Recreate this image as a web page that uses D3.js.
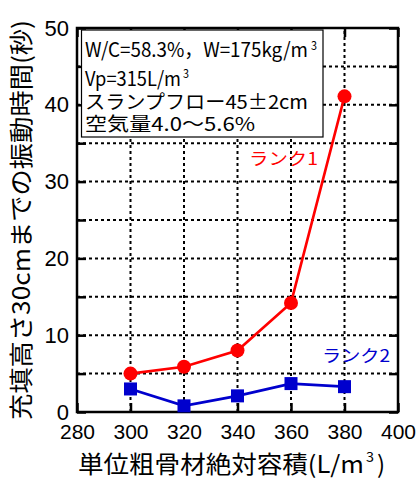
<!DOCTYPE html>
<html>
<head>
<meta charset="utf-8">
<script src="https://cdn.jsdelivr.net/npm/d3@7"></script>
<style>
  body { margin: 0; background: #fff; }
</style>
</head>
<body>
<div id="chart"></div>
<script>
const w = 420;
const h = 480;

// tick values
const xTicks = [280, 300, 320, 340, 360, 380, 400];
const yTicks = [0, 10, 20, 30, 40, 50];

// data
const volume = [300, 320, 340, 360, 380];
const rank1 = [5.0, 5.9, 8.0, 14.2, 41.1];
const rank2 = [3.0, 0.8, 2.1, 3.7, 3.3];

const jp = '"Noto Sans CJK JP", sans-serif';
const latin = '"Liberation Sans", Arial, sans-serif';
const red = '#ff0000';
const blue = '#0000cd';

const x = d3.scaleLinear().domain([280, 400]).range([77, 398]);
const y = d3.scaleLinear().domain([0, 50]).range([412, 28]);

const svg = d3.select('#chart')
  .append('svg')
  .attr('width', w)
  .attr('height', h);

// dashed grid
const grid = svg.append('g')
  .attr('stroke', '#000')
  .attr('stroke-width', 2)
  .attr('stroke-dasharray', '3,3');

grid.selectAll('.vg')
  .data(xTicks.slice(1, -1))
  .enter()
  .append('line')
  .attr('x1', (d) => x(d))
  .attr('x2', (d) => x(d))
  .attr('y1', y(0))
  .attr('y2', y(50));

grid.selectAll('.hg')
  .data(d3.range(5, 50, 5))
  .enter()
  .append('line')
  .attr('x1', x(280))
  .attr('x2', x(400))
  .attr('y1', (d) => y(d))
  .attr('y2', (d) => y(d));

// axes with inward ticks on all sides
const yMarks = d3.range(0, 51, 5);

const axisL = svg.append('g')
  .attr('transform', `translate(${x(280)},0)`)
  .call(d3.axisLeft(y).tickValues(yMarks).tickSizeInner(-9).tickSizeOuter(0).tickPadding(8)
    .tickFormat((d) => (yTicks.includes(d) ? d : '')));

const axisR = svg.append('g')
  .attr('transform', `translate(${x(400)},0)`)
  .call(d3.axisRight(y).tickValues(yMarks).tickSizeInner(-9).tickSizeOuter(0).tickFormat(''));

const axisB = svg.append('g')
  .attr('transform', `translate(0,${y(0)})`)
  .call(d3.axisBottom(x).tickValues(xTicks).tickSizeInner(-9).tickSizeOuter(0).tickPadding(12));

const axisT = svg.append('g')
  .attr('transform', `translate(0,${y(50)})`)
  .call(d3.axisTop(x).tickValues(xTicks).tickSizeInner(-9).tickSizeOuter(0).tickFormat(''));

[axisL, axisR, axisB, axisT].forEach((g) => {
  g.select('.domain').remove();
  g.selectAll('.tick line').attr('stroke', '#000').attr('stroke-width', 2.5);
  g.selectAll('.tick text')
    .attr('fill', '#000')
    .style('font-family', latin)
    .style('font-size', '21px');
});
axisL.selectAll('.tick text').style('font-size', '22px');

svg.append('rect')
  .attr('x', x(280))
  .attr('y', y(50))
  .attr('width', x(400) - x(280))
  .attr('height', y(0) - y(50))
  .attr('fill', 'none')
  .attr('stroke', '#000')
  .attr('stroke-width', 2.5);

// condition box
svg.append('rect')
  .attr('x', 81.5)
  .attr('y', 30)
  .attr('width', 241.5)
  .attr('height', 107)
  .attr('fill', '#fff')
  .attr('stroke', '#000')
  .attr('stroke-width', 1.2);

function boxText(str, tx, ty, len, size) {
  svg.append('text')
    .attr('x', tx)
    .attr('y', ty)
    .attr('textLength', len)
    .attr('lengthAdjust', 'spacingAndGlyphs')
    .style('font-family', jp)
    .style('font-size', size + 'px')
    .attr('fill', '#000')
    .text(str);
}

boxText('W/C=58.3%，W=175kg/m', 85, 57, 223, 20);
boxText('3', 311, 50, 6, 12);
boxText('Vp=315L/m', 85, 86, 96, 20);
boxText('3', 183, 78, 6, 12);
boxText('スランプフロー45±2cm', 85, 109, 223, 19);
boxText('空気量4.0～5.6%', 85, 131, 170, 19);

// series
const pts1 = volume.map((v, i) => [v, rank1[i]]);
const pts2 = volume.map((v, i) => [v, rank2[i]]);
const line = d3.line().x((d) => x(d[0])).y((d) => y(d[1]));

svg.append('path')
  .datum(pts2)
  .attr('d', line)
  .attr('fill', 'none')
  .attr('stroke', blue)
  .attr('stroke-width', 2.8);

svg.selectAll('.sq')
  .data(pts2)
  .enter()
  .append('rect')
  .attr('x', (d) => x(d[0]) - 6.5)
  .attr('y', (d) => y(d[1]) - 6.5)
  .attr('width', 13)
  .attr('height', 13)
  .attr('fill', blue);

svg.append('path')
  .datum(pts1)
  .attr('d', line)
  .attr('fill', 'none')
  .attr('stroke', red)
  .attr('stroke-width', 2.6);

svg.selectAll('.dot')
  .data(pts1)
  .enter()
  .append('circle')
  .attr('cx', (d) => x(d[0]))
  .attr('cy', (d) => y(d[1]))
  .attr('r', 7)
  .attr('fill', red);

// series labels
svg.append('text')
  .attr('x', 249).attr('y', 165)
  .attr('textLength', 69).attr('lengthAdjust', 'spacingAndGlyphs')
  .style('font-family', jp).style('font-size', '17px')
  .attr('fill', red)
  .text('ランク1');

svg.append('text')
  .attr('x', 322).attr('y', 362)
  .attr('textLength', 68).attr('lengthAdjust', 'spacingAndGlyphs')
  .style('font-family', jp).style('font-size', '17px')
  .attr('fill', blue)
  .text('ランク2');

// axis titles
svg.append('text')
  .attr('transform', 'translate(30,220) rotate(-90)')
  .attr('text-anchor', 'middle')
  .attr('textLength', 400).attr('lengthAdjust', 'spacingAndGlyphs')
  .style('font-family', jp).style('font-size', '24px')
  .attr('fill', '#000')
  .text('充填高さ30cmまでの振動時間(秒)');

svg.append('text')
  .attr('x', 78).attr('y', 473)
  .attr('textLength', 286).attr('lengthAdjust', 'spacingAndGlyphs')
  .style('font-family', jp).style('font-size', '24px')
  .attr('fill', '#000')
  .text('単位粗骨材絶対容積(L/m');

svg.append('text')
  .attr('x', 366).attr('y', 462)
  .attr('textLength', 8).attr('lengthAdjust', 'spacingAndGlyphs')
  .style('font-family', jp).style('font-size', '14px')
  .attr('fill', '#000')
  .text('3');

svg.append('text')
  .attr('x', 377).attr('y', 473)
  .style('font-family', jp).style('font-size', '24px')
  .attr('fill', '#000')
  .text(')');
</script>
</body>
</html>
